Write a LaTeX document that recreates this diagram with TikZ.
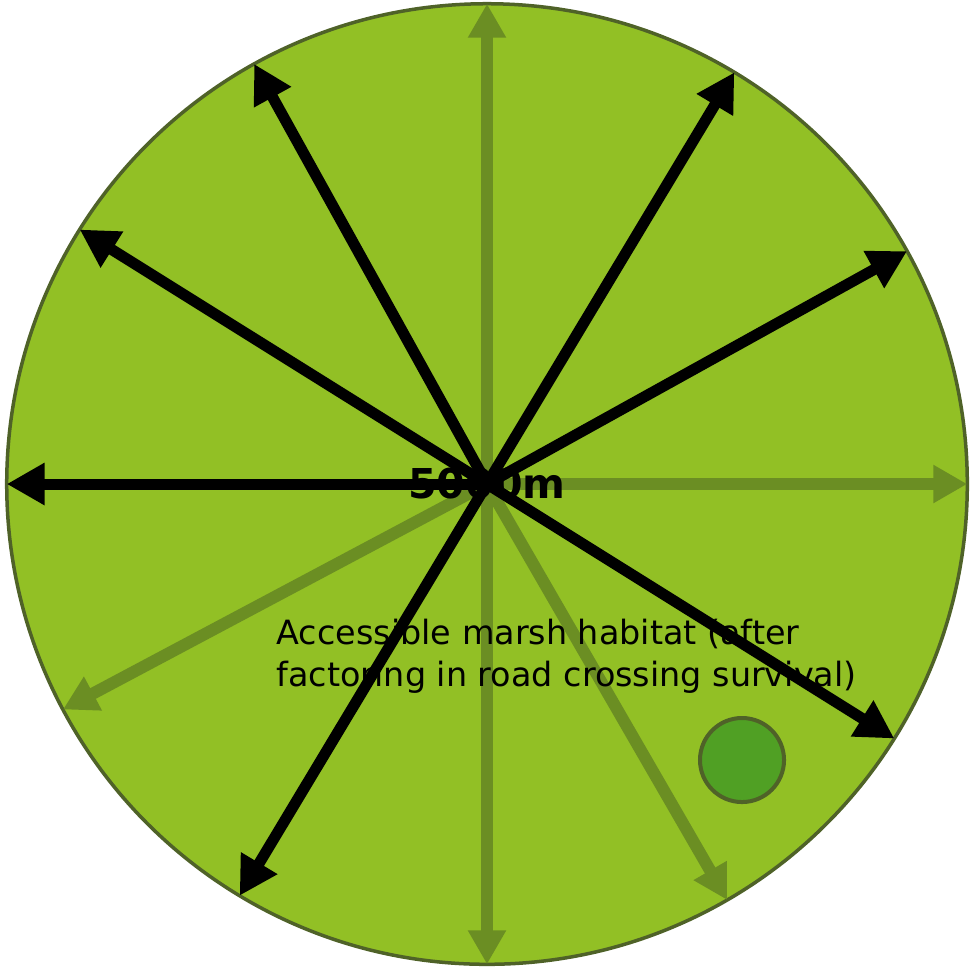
\documentclass[tikz,border=0pt]{standalone}
\usepackage{fontspec}
\setmainfont{DejaVu Sans}
\usepackage{tikz}
\usetikzlibrary{
  arrows.meta
}
\definecolor{marshcolor}{RGB}{146, 192, 37}
\definecolor{rimcolor}{RGB}{79, 98, 40}
\definecolor{faintcolor}{RGB}{107, 142, 35}
\definecolor{patchcolor}{RGB}{80, 160, 36}
\tikzset{
rangecircle/.style={
  circle,
  draw=rimcolor,
  line width=0.035cm,
  fill=marshcolor,
  minimum size=9.6cm,
  inner sep=0pt,
  outer sep=0pt
},
patchcircle/.style={
  circle,
  draw=rimcolor,
  line width=0.04cm,
  fill=patchcolor,
  minimum size=0.84cm,
  inner sep=0pt
},
reacharrow/.style={
  -{Triangle[length=3.8mm,width=4mm]},
  line width=0.11cm,
  draw=black
},
faintarrow/.style={
  -{Triangle[length=3.4mm,width=3.6mm]},
  line width=0.12cm,
  draw=faintcolor
},
distlabel/.style={
  font=\bfseries\fontsize{11.7}{14}\selectfont,
  inner sep=0pt
},
habitatlabel/.style={
  font=\fontsize{9.5}{12}\selectfont,
  align=left,
  anchor=north west,
  inner sep=0pt
}
}
\begin{document}
\begin{tikzpicture}[x=0.01cm, y=-0.01cm]
  \useasboundingbox (0,0) rectangle (974,966);
  \node[rangecircle] (marsh) at (487,484) {};
  \node[patchcircle] (wetpatch) at (742,760) {};
  \foreach \ang in {0,90,208,270,300}
    \draw[faintarrow] (marsh.center) -- (marsh.\ang);
  \node[distlabel] (radius) at (marsh.center) {5000m};
  \node[habitatlabel] (reach) at (276,618) {Accessible marsh habitat (after\\factoring in road crossing survival)};
  \foreach \ang in {29,59,119,148,180,239,328}
    \draw[reacharrow] (marsh.center) -- (marsh.\ang);
\end{tikzpicture}
\end{document}
